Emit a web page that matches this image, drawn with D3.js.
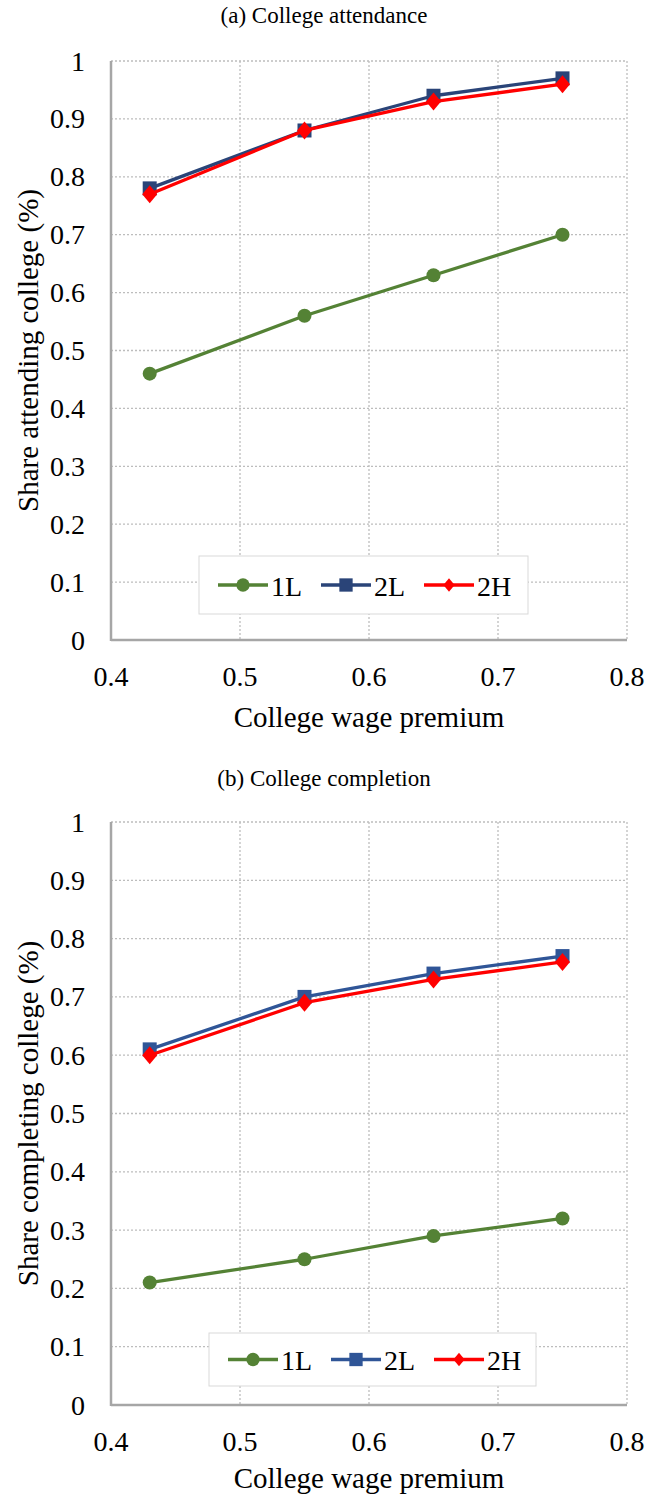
<!DOCTYPE html>
<html><head><meta charset="utf-8">
<script src="https://cdn.jsdelivr.net/npm/d3@7"></script>
<style>
html,body{margin:0;padding:0;background:#fff;}
</style></head>
<body>
<svg id="chart" width="645" height="1499"></svg>
<script>
const wagePremium = [0.43, 0.55, 0.65, 0.75];
const seriesNames = ["1L", "2L", "2H"];
const attend1L = [0.46, 0.56, 0.63, 0.70];
const attend2L = [0.78, 0.88, 0.94, 0.97];
const attend2H = [0.77, 0.88, 0.93, 0.96];
const complete1L = [0.21, 0.25, 0.29, 0.32];
const complete2L = [0.61, 0.70, 0.74, 0.77];
const complete2H = [0.60, 0.69, 0.73, 0.76];
const xTicks = [0.4, 0.5, 0.6, 0.7, 0.8];
const yTicks = [0, 0.1, 0.2, 0.3, 0.4, 0.5, 0.6, 0.7, 0.8, 0.9, 1];
const titles = ["(a) College attendance", "(b) College completion"];
const yTitles = ["Share attending college (%)", "Share completing college (%)"];
const xTitle = "College wage premium";

const FONT = "'Liberation Serif', 'Times New Roman', Times, serif";
const svg = d3.select("#chart");
const colors = {"1L": "#548235", "2L": "#2F4E8C", "2H": "#FF0000"};
const shapes = {"1L": "circle", "2L": "square", "2H": "diamond"};

function txt(g, size) {
  return g.append("text").attr("font-family", FONT).attr("font-size", size).attr("fill", "#000");
}

function marker(g, shape, color, cx, cy, s) {
  if (shape === "circle") {
    g.append("circle").attr("cx", cx).attr("cy", cy).attr("r", 7 * s).attr("fill", color);
  } else if (shape === "square") {
    const h = 7 * s;
    g.append("rect").attr("x", cx - h).attr("y", cy - h).attr("width", 2 * h).attr("height", 2 * h).attr("fill", color);
  } else {
    const w = 7.5 * s, hh = 9 * s;
    g.append("path").attr("d", `M${cx},${cy - hh}L${cx + w},${cy}L${cx},${cy + hh}L${cx - w},${cy}Z`).attr("fill", color);
  }
}

function drawChart(opts) {
  const {top, bottom, title, titleY, yTitle, data, legend, blue, xTitleY} = opts;
  const left = 111, right = 627;
  const x = d3.scaleLinear().domain([0.4, 0.8]).range([left, right]);
  const y = d3.scaleLinear().domain([0, 1]).range([bottom, top]);
  const g = svg.append("g");
  const cols = Object.assign({}, colors, {"2L": blue});

  txt(g, 23).attr("x", 324).attr("y", titleY).attr("text-anchor", "middle")
    .attr("dominant-baseline", "central").text(title);

  // grid
  g.append("g").selectAll("line").data(yTicks.filter(d => d > 0)).join("line")
    .attr("x1", left).attr("x2", right).attr("y1", d => y(d)).attr("y2", d => y(d))
    .attr("stroke", "#bdbdbd").attr("stroke-width", 1.3).attr("stroke-dasharray", "2,2");
  g.append("g").selectAll("line").data(xTicks.filter(d => d > 0.4)).join("line")
    .attr("x1", d => x(d)).attr("x2", d => x(d)).attr("y1", top).attr("y2", bottom)
    .attr("stroke", "#bdbdbd").attr("stroke-width", 1.3).attr("stroke-dasharray", "2,2");
  // axes lines
  g.append("line").attr("x1", left).attr("x2", left).attr("y1", top).attr("y2", bottom + 1)
    .attr("stroke", "#a6a6a6").attr("stroke-width", 2.5);
  g.append("line").attr("x1", left).attr("x2", right).attr("y1", bottom).attr("y2", bottom)
    .attr("stroke", "#a6a6a6").attr("stroke-width", 2.5);

  // tick labels
  yTicks.forEach(d => {
    txt(g, 28).attr("x", 85).attr("y", y(d)).attr("text-anchor", "end").attr("dominant-baseline", "central")
      .text(d3.format("")(d));
  });
  xTicks.forEach(d => {
    txt(g, 28).attr("x", x(d)).attr("y", bottom + 36).attr("text-anchor", "middle").attr("dominant-baseline", "central")
      .text(d3.format("")(d));
  });

  txt(g, 29).attr("x", (left + right) / 2).attr("y", xTitleY).attr("text-anchor", "middle")
    .attr("dominant-baseline", "central").text(xTitle);
  txt(g, 29).attr("transform", `translate(28,${(top + bottom) / 2}) rotate(-90)`)
    .attr("text-anchor", "middle").attr("dominant-baseline", "central").text(yTitle);

  // lines
  const line = d3.line().x((d, i) => x(wagePremium[i])).y(d => y(d));
  seriesNames.forEach((name, k) => {
    const vals = data[k];
    g.append("path").attr("d", line(vals)).attr("fill", "none").attr("stroke", cols[name])
      .attr("stroke-width", 3.3).attr("stroke-linejoin", "round");
    const mg = g.append("g");
    vals.forEach((v, i) => marker(mg, shapes[name], cols[name], x(wagePremium[i]), y(v), 1));
  });

  // legend
  const lg = g.append("g");
  lg.append("rect").attr("x", legend.x).attr("y", legend.y).attr("width", legend.w).attr("height", legend.h)
    .attr("fill", "#fff").attr("stroke", "#d9d9d9").attr("stroke-width", 1);
  const cy = legend.y + legend.h / 2;
  seriesNames.forEach((name, k) => {
    const lx = legend.x + 19 + k * 103;
    lg.append("line").attr("x1", lx).attr("x2", lx + 50).attr("y1", cy).attr("y2", cy)
      .attr("stroke", cols[name]).attr("stroke-width", 3.3);
    marker(lg, shapes[name], cols[name], lx + 25, cy, name === "2H" ? 0.75 : 0.95);
    txt(lg, 28).attr("x", lx + 53).attr("y", cy + 1).attr("dominant-baseline", "central").text(name);
  });
}

drawChart({top: 61, bottom: 640, title: titles[0], titleY: 15, yTitle: yTitles[0],
  data: [attend1L, attend2L, attend2H], legend: {x: 199, y: 556, w: 329, h: 58}, blue: "#2A4478", xTitleY: 717});
drawChart({top: 822, bottom: 1405, title: titles[1], titleY: 778, yTitle: yTitles[1],
  data: [complete1L, complete2L, complete2H], legend: {x: 209, y: 1333, w: 327, h: 53}, blue: "#2F5597", xTitleY: 1478});
</script>
</body></html>
